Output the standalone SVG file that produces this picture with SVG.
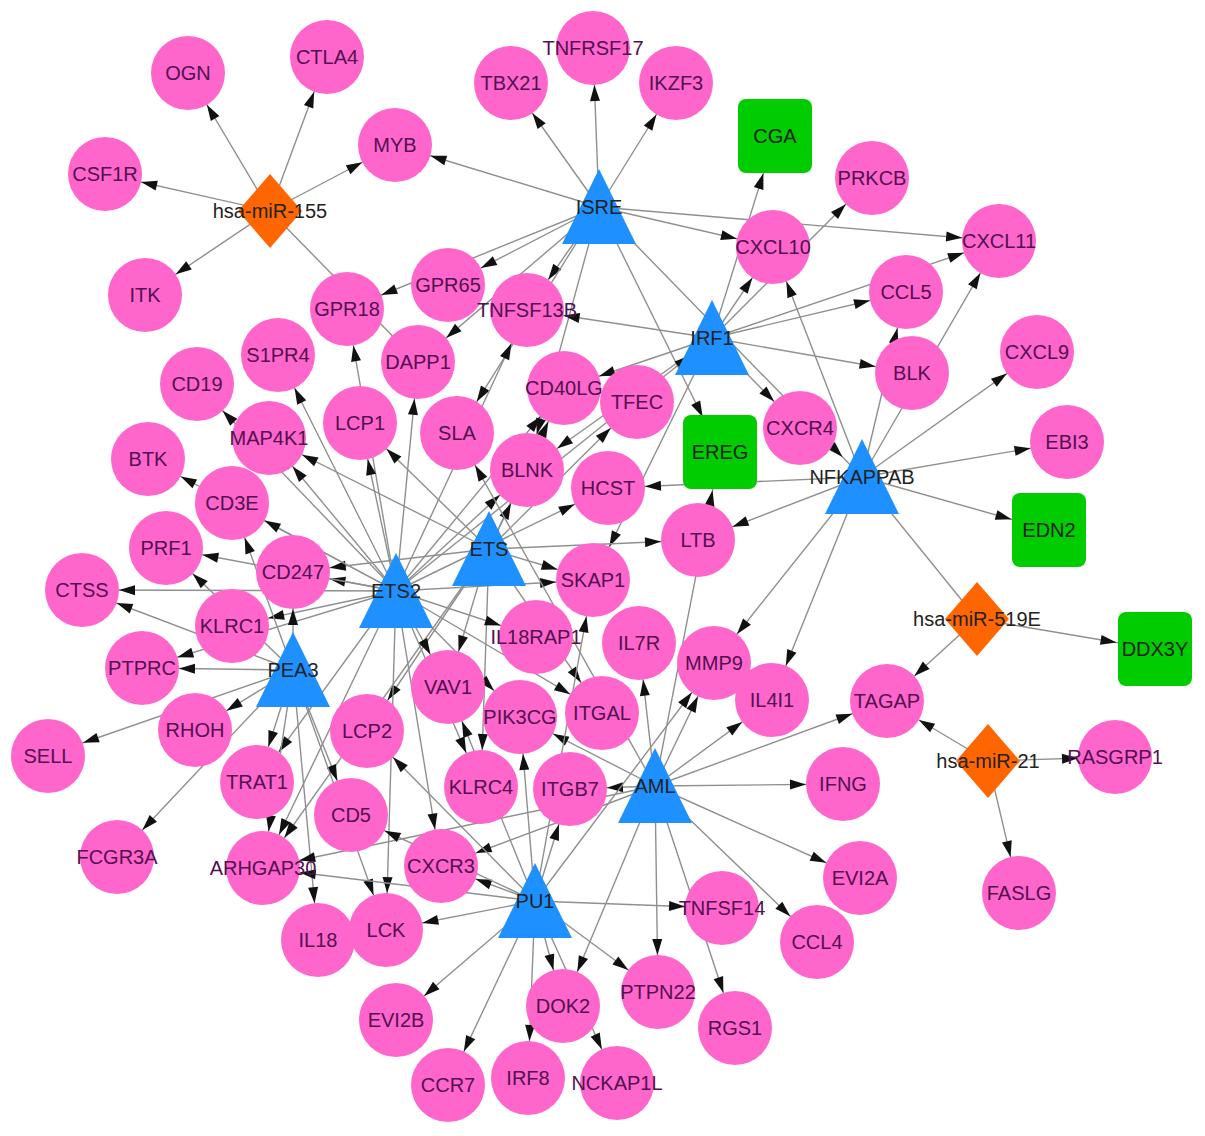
<svg xmlns="http://www.w3.org/2000/svg" width="1205" height="1136" viewBox="0 0 1205 1136">
<style>
.e{stroke:#8f8f8f;stroke-width:1.4;fill:none;marker-end:url(#a)}
.es{marker-end:url(#as)}
.et{marker-end:url(#at)}
.pl{marker-end:none}
.c{fill:#FF66CC}
.t{fill:#1E90FF}
.d{fill:#FF6600}
.s{fill:#00CC00}
text{font-family:"Liberation Sans",Arial,sans-serif;font-size:20px;text-anchor:middle}
.lc{fill:#52104F}
.lo{fill:#222222}
</style>
<defs>
<marker id="a" viewBox="0 0 16 10" markerWidth="16" markerHeight="10" refX="53" refY="5" orient="auto" markerUnits="userSpaceOnUse" style="overflow:visible"><path d="M0,0L16,5L0,10z" fill="#111"/></marker>
<marker id="as" viewBox="0 0 16 10" markerWidth="16" markerHeight="10" refX="55" refY="5" orient="auto" markerUnits="userSpaceOnUse" style="overflow:visible"><path d="M0,0L16,5L0,10z" fill="#111"/></marker>
<marker id="at" viewBox="0 0 16 10" markerWidth="16" markerHeight="10" refX="44" refY="5" orient="auto" markerUnits="userSpaceOnUse" style="overflow:visible"><path d="M0,0L16,5L0,10z" fill="#111"/></marker>
</defs>
<rect width="1205" height="1136" fill="#ffffff"/>
<g id="connectors">
<line class="e" x1="270" y1="211" x2="188" y2="73"/>
<line class="e" x1="270" y1="211" x2="327" y2="57"/>
<line class="e" x1="270" y1="211" x2="105" y2="174"/>
<line class="e" x1="270" y1="211" x2="395" y2="145"/>
<line class="e" x1="270" y1="211" x2="145" y2="295"/>
<line class="e pl" x1="270" y1="211" x2="418" y2="362"/>
<line class="e" x1="599" y1="207" x2="511" y2="83"/>
<line class="e" x1="599" y1="207" x2="593" y2="48"/>
<line class="e" x1="599" y1="207" x2="676" y2="83"/>
<line class="e" x1="599" y1="207" x2="395" y2="145"/>
<line class="e" x1="599" y1="207" x2="773" y2="247"/>
<line class="e" x1="599" y1="207" x2="999" y2="241"/>
<line class="e" x1="599" y1="207" x2="448" y2="285"/>
<line class="e" x1="599" y1="207" x2="347" y2="309"/>
<line class="e" x1="599" y1="207" x2="527" y2="310"/>
<line class="e" x1="599" y1="207" x2="418" y2="362"/>
<line class="e es" x1="599" y1="207" x2="720" y2="452"/>
<line class="e et" x1="599" y1="207" x2="862" y2="477"/>
<line class="e" x1="599" y1="207" x2="527" y2="470"/>
<line class="e" x1="599" y1="207" x2="457" y2="433"/>
<line class="e es" x1="712" y1="338" x2="775" y2="136"/>
<line class="e" x1="712" y1="338" x2="773" y2="247"/>
<line class="e" x1="712" y1="338" x2="872" y2="178"/>
<line class="e" x1="712" y1="338" x2="999" y2="241"/>
<line class="e" x1="712" y1="338" x2="906" y2="292"/>
<line class="e" x1="712" y1="338" x2="912" y2="373"/>
<line class="e" x1="712" y1="338" x2="800" y2="428"/>
<line class="e" x1="712" y1="338" x2="527" y2="310"/>
<line class="e" x1="712" y1="338" x2="564" y2="388"/>
<line class="e" x1="712" y1="338" x2="527" y2="470"/>
<line class="e" x1="712" y1="338" x2="593" y2="580"/>
<line class="e" x1="862" y1="477" x2="773" y2="247"/>
<line class="e" x1="862" y1="477" x2="906" y2="292"/>
<line class="e" x1="862" y1="477" x2="999" y2="241"/>
<line class="e" x1="862" y1="477" x2="1037" y2="352"/>
<line class="e" x1="862" y1="477" x2="1067" y2="442"/>
<line class="e es" x1="862" y1="477" x2="1049" y2="530"/>
<line class="e" x1="862" y1="477" x2="608" y2="488"/>
<line class="e" x1="862" y1="477" x2="698" y2="540"/>
<line class="e" x1="862" y1="477" x2="714" y2="663"/>
<line class="e" x1="862" y1="477" x2="772" y2="700"/>
<line class="e pl" x1="862" y1="477" x2="977" y2="619"/>
<line class="e es" x1="977" y1="619" x2="1155" y2="649"/>
<line class="e" x1="977" y1="619" x2="887" y2="701"/>
<line class="e" x1="988" y1="761" x2="887" y2="701"/>
<line class="e" x1="988" y1="761" x2="1115" y2="757"/>
<line class="e" x1="988" y1="761" x2="1019" y2="893"/>
<line class="e" x1="489" y1="549" x2="637" y2="402"/>
<line class="e" x1="489" y1="549" x2="564" y2="388"/>
<line class="e" x1="489" y1="549" x2="527" y2="470"/>
<line class="e" x1="489" y1="549" x2="593" y2="580"/>
<line class="e" x1="489" y1="549" x2="698" y2="540"/>
<line class="e" x1="489" y1="549" x2="360" y2="423"/>
<line class="e" x1="489" y1="549" x2="269" y2="438"/>
<line class="e" x1="489" y1="549" x2="293" y2="572"/>
<line class="e" x1="489" y1="549" x2="448" y2="687"/>
<line class="e" x1="489" y1="549" x2="367" y2="731"/>
<line class="e" x1="489" y1="549" x2="602" y2="713"/>
<line class="e" x1="489" y1="549" x2="481" y2="787"/>
<line class="e" x1="489" y1="549" x2="263" y2="868"/>
<line class="e et" x1="396" y1="591" x2="712" y2="338"/>
<line class="e" x1="396" y1="591" x2="564" y2="388"/>
<line class="e" x1="396" y1="591" x2="527" y2="470"/>
<line class="e" x1="396" y1="591" x2="593" y2="580"/>
<line class="e" x1="396" y1="591" x2="608" y2="488"/>
<line class="e" x1="396" y1="591" x2="527" y2="310"/>
<line class="e" x1="396" y1="591" x2="418" y2="362"/>
<line class="e" x1="396" y1="591" x2="347" y2="309"/>
<line class="e" x1="396" y1="591" x2="360" y2="423"/>
<line class="e" x1="396" y1="591" x2="278" y2="355"/>
<line class="e" x1="396" y1="591" x2="269" y2="438"/>
<line class="e" x1="396" y1="591" x2="197" y2="384"/>
<line class="e" x1="396" y1="591" x2="148" y2="459"/>
<line class="e" x1="396" y1="591" x2="232" y2="503"/>
<line class="e" x1="396" y1="591" x2="293" y2="572"/>
<line class="e" x1="396" y1="591" x2="166" y2="548"/>
<line class="e" x1="396" y1="591" x2="82" y2="590"/>
<line class="e" x1="396" y1="591" x2="232" y2="626"/>
<line class="e" x1="396" y1="591" x2="142" y2="668"/>
<line class="e" x1="396" y1="591" x2="536" y2="637"/>
<line class="e" x1="396" y1="591" x2="448" y2="687"/>
<line class="e" x1="396" y1="591" x2="520" y2="717"/>
<line class="e" x1="396" y1="591" x2="602" y2="713"/>
<line class="e" x1="396" y1="591" x2="481" y2="787"/>
<line class="e" x1="396" y1="591" x2="441" y2="866"/>
<line class="e" x1="396" y1="591" x2="386" y2="930"/>
<line class="e" x1="396" y1="591" x2="263" y2="868"/>
<line class="e" x1="396" y1="591" x2="257" y2="782"/>
<line class="e" x1="293" y1="670" x2="293" y2="572"/>
<line class="e" x1="293" y1="670" x2="232" y2="503"/>
<line class="e" x1="293" y1="670" x2="166" y2="548"/>
<line class="e" x1="293" y1="670" x2="82" y2="590"/>
<line class="e" x1="293" y1="670" x2="142" y2="668"/>
<line class="e" x1="293" y1="670" x2="195" y2="730"/>
<line class="e" x1="293" y1="670" x2="48" y2="755"/>
<line class="e" x1="293" y1="670" x2="117" y2="857"/>
<line class="e" x1="293" y1="670" x2="257" y2="782"/>
<line class="e" x1="293" y1="670" x2="263" y2="868"/>
<line class="e" x1="293" y1="670" x2="351" y2="815"/>
<line class="e" x1="293" y1="670" x2="318" y2="940"/>
<line class="e" x1="293" y1="670" x2="386" y2="930"/>
<line class="e" x1="655" y1="786" x2="570" y2="789"/>
<line class="e" x1="655" y1="786" x2="843" y2="784"/>
<line class="e" x1="655" y1="786" x2="860" y2="878"/>
<line class="e" x1="655" y1="786" x2="817" y2="942"/>
<line class="e" x1="655" y1="786" x2="735" y2="1028"/>
<line class="e" x1="655" y1="786" x2="658" y2="992"/>
<line class="e" x1="655" y1="786" x2="563" y2="1006"/>
<line class="e" x1="655" y1="786" x2="887" y2="701"/>
<line class="e" x1="655" y1="786" x2="772" y2="700"/>
<line class="e" x1="655" y1="786" x2="714" y2="663"/>
<line class="e" x1="655" y1="786" x2="639" y2="643"/>
<line class="e es" x1="655" y1="786" x2="720" y2="452"/>
<line class="e" x1="655" y1="786" x2="457" y2="433"/>
<line class="e" x1="655" y1="786" x2="520" y2="717"/>
<line class="e" x1="655" y1="786" x2="441" y2="866"/>
<line class="e" x1="655" y1="786" x2="263" y2="868"/>
<line class="e" x1="535" y1="901" x2="448" y2="1085"/>
<line class="e" x1="535" y1="901" x2="528" y2="1078"/>
<line class="e" x1="535" y1="901" x2="563" y2="1006"/>
<line class="e" x1="535" y1="901" x2="617" y2="1083"/>
<line class="e" x1="535" y1="901" x2="658" y2="992"/>
<line class="e" x1="535" y1="901" x2="722" y2="908"/>
<line class="e" x1="535" y1="901" x2="396" y2="1020"/>
<line class="e" x1="535" y1="901" x2="570" y2="789"/>
<line class="e" x1="535" y1="901" x2="441" y2="866"/>
<line class="e" x1="535" y1="901" x2="386" y2="930"/>
<line class="e" x1="535" y1="901" x2="263" y2="868"/>
<line class="e" x1="535" y1="901" x2="520" y2="717"/>
<line class="e" x1="535" y1="901" x2="714" y2="663"/>
<line class="e" x1="535" y1="901" x2="367" y2="731"/>
<line class="e" x1="535" y1="901" x2="351" y2="815"/>
<line class="e" x1="535" y1="901" x2="593" y2="580"/>
<line class="e" x1="535" y1="901" x2="448" y2="687"/>
</g>
<g id="n-OGN"><circle class="c" cx="188" cy="73" r="37"/><text class="lc" x="188" y="80">OGN</text></g>
<g id="n-CTLA4"><circle class="c" cx="327" cy="57" r="37"/><text class="lc" x="327" y="64">CTLA4</text></g>
<g id="n-CSF1R"><circle class="c" cx="105" cy="174" r="37"/><text class="lc" x="105" y="181">CSF1R</text></g>
<g id="n-MYB"><circle class="c" cx="395" cy="145" r="37"/><text class="lc" x="395" y="152">MYB</text></g>
<g id="n-ITK"><circle class="c" cx="145" cy="295" r="37"/><text class="lc" x="145" y="302">ITK</text></g>
<g id="n-TBX21"><circle class="c" cx="511" cy="83" r="37"/><text class="lc" x="511" y="90">TBX21</text></g>
<g id="n-TNFRSF17"><circle class="c" cx="593" cy="48" r="37"/><text class="lc" x="593" y="55">TNFRSF17</text></g>
<g id="n-IKZF3"><circle class="c" cx="676" cy="83" r="37"/><text class="lc" x="676" y="90">IKZF3</text></g>
<g id="n-PRKCB"><circle class="c" cx="872" cy="178" r="37"/><text class="lc" x="872" y="185">PRKCB</text></g>
<g id="n-CXCL10"><circle class="c" cx="773" cy="247" r="37"/><text class="lc" x="773" y="254">CXCL10</text></g>
<g id="n-CXCL11"><circle class="c" cx="999" cy="241" r="37"/><text class="lc" x="999" y="248">CXCL11</text></g>
<g id="n-GPR65"><circle class="c" cx="448" cy="285" r="37"/><text class="lc" x="448" y="292">GPR65</text></g>
<g id="n-GPR18"><circle class="c" cx="347" cy="309" r="37"/><text class="lc" x="347" y="316">GPR18</text></g>
<g id="n-TNFSF13B"><circle class="c" cx="527" cy="310" r="37"/><text class="lc" x="527" y="317">TNFSF13B</text></g>
<g id="n-CCL5"><circle class="c" cx="906" cy="292" r="37"/><text class="lc" x="906" y="299">CCL5</text></g>
<g id="n-DAPP1"><circle class="c" cx="418" cy="362" r="37"/><text class="lc" x="418" y="369">DAPP1</text></g>
<g id="n-S1PR4"><circle class="c" cx="278" cy="355" r="37"/><text class="lc" x="278" y="362">S1PR4</text></g>
<g id="n-CD19"><circle class="c" cx="197" cy="384" r="37"/><text class="lc" x="197" y="391">CD19</text></g>
<g id="n-BLK"><circle class="c" cx="912" cy="373" r="37"/><text class="lc" x="912" y="380">BLK</text></g>
<g id="n-CXCL9"><circle class="c" cx="1037" cy="352" r="37"/><text class="lc" x="1037" y="359">CXCL9</text></g>
<g id="n-CD40LG"><circle class="c" cx="564" cy="388" r="37"/><text class="lc" x="564" y="395">CD40LG</text></g>
<g id="n-TFEC"><circle class="c" cx="637" cy="402" r="37"/><text class="lc" x="637" y="409">TFEC</text></g>
<g id="n-CXCR4"><circle class="c" cx="800" cy="428" r="37"/><text class="lc" x="800" y="435">CXCR4</text></g>
<g id="n-LCP1"><circle class="c" cx="360" cy="423" r="37"/><text class="lc" x="360" y="430">LCP1</text></g>
<g id="n-SLA"><circle class="c" cx="457" cy="433" r="37"/><text class="lc" x="457" y="440">SLA</text></g>
<g id="n-MAP4K1"><circle class="c" cx="269" cy="438" r="37"/><text class="lc" x="269" y="445">MAP4K1</text></g>
<g id="n-EBI3"><circle class="c" cx="1067" cy="442" r="37"/><text class="lc" x="1067" y="449">EBI3</text></g>
<g id="n-BTK"><circle class="c" cx="148" cy="459" r="37"/><text class="lc" x="148" y="466">BTK</text></g>
<g id="n-BLNK"><circle class="c" cx="527" cy="470" r="37"/><text class="lc" x="527" y="477">BLNK</text></g>
<g id="n-HCST"><circle class="c" cx="608" cy="488" r="37"/><text class="lc" x="608" y="495">HCST</text></g>
<g id="n-CD3E"><circle class="c" cx="232" cy="503" r="37"/><text class="lc" x="232" y="510">CD3E</text></g>
<g id="n-LTB"><circle class="c" cx="698" cy="540" r="37"/><text class="lc" x="698" y="547">LTB</text></g>
<g id="n-PRF1"><circle class="c" cx="166" cy="548" r="37"/><text class="lc" x="166" y="555">PRF1</text></g>
<g id="n-CD247"><circle class="c" cx="293" cy="572" r="37"/><text class="lc" x="293" y="579">CD247</text></g>
<g id="n-CTSS"><circle class="c" cx="82" cy="590" r="37"/><text class="lc" x="82" y="597">CTSS</text></g>
<g id="n-SKAP1"><circle class="c" cx="593" cy="580" r="37"/><text class="lc" x="593" y="587">SKAP1</text></g>
<g id="n-KLRC1"><circle class="c" cx="232" cy="626" r="37"/><text class="lc" x="232" y="633">KLRC1</text></g>
<g id="n-IL18RAP1"><circle class="c" cx="536" cy="637" r="37"/><text class="lc" x="536" y="644">IL18RAP1</text></g>
<g id="n-IL7R"><circle class="c" cx="639" cy="643" r="37"/><text class="lc" x="639" y="650">IL7R</text></g>
<g id="n-MMP9"><circle class="c" cx="714" cy="663" r="37"/><text class="lc" x="714" y="670">MMP9</text></g>
<g id="n-PTPRC"><circle class="c" cx="142" cy="668" r="37"/><text class="lc" x="142" y="675">PTPRC</text></g>
<g id="n-IL4I1"><circle class="c" cx="772" cy="700" r="37"/><text class="lc" x="772" y="707">IL4I1</text></g>
<g id="n-TAGAP"><circle class="c" cx="887" cy="701" r="37"/><text class="lc" x="887" y="708">TAGAP</text></g>
<g id="n-VAV1"><circle class="c" cx="448" cy="687" r="37"/><text class="lc" x="448" y="694">VAV1</text></g>
<g id="n-PIK3CG"><circle class="c" cx="520" cy="717" r="37"/><text class="lc" x="520" y="724">PIK3CG</text></g>
<g id="n-ITGAL"><circle class="c" cx="602" cy="713" r="37"/><text class="lc" x="602" y="720">ITGAL</text></g>
<g id="n-RHOH"><circle class="c" cx="195" cy="730" r="37"/><text class="lc" x="195" y="737">RHOH</text></g>
<g id="n-LCP2"><circle class="c" cx="367" cy="731" r="37"/><text class="lc" x="367" y="738">LCP2</text></g>
<g id="n-SELL"><circle class="c" cx="48" cy="756" r="37"/><text class="lc" x="48" y="763">SELL</text></g>
<g id="n-TRAT1"><circle class="c" cx="257" cy="782" r="37"/><text class="lc" x="257" y="789">TRAT1</text></g>
<g id="n-KLRC4"><circle class="c" cx="481" cy="787" r="37"/><text class="lc" x="481" y="794">KLRC4</text></g>
<g id="n-ITGB7"><circle class="c" cx="570" cy="789" r="37"/><text class="lc" x="570" y="796">ITGB7</text></g>
<g id="n-IFNG"><circle class="c" cx="843" cy="784" r="37"/><text class="lc" x="843" y="791">IFNG</text></g>
<g id="n-RASGRP1"><circle class="c" cx="1115" cy="757" r="37"/><text class="lc" x="1115" y="764">RASGRP1</text></g>
<g id="n-CD5"><circle class="c" cx="351" cy="815" r="37"/><text class="lc" x="351" y="822">CD5</text></g>
<g id="n-FCGR3A"><circle class="c" cx="117" cy="857" r="37"/><text class="lc" x="117" y="864">FCGR3A</text></g>
<g id="n-ARHGAP30"><circle class="c" cx="263" cy="868" r="37"/><text class="lc" x="263" y="875">ARHGAP30</text></g>
<g id="n-CXCR3"><circle class="c" cx="441" cy="866" r="37"/><text class="lc" x="441" y="873">CXCR3</text></g>
<g id="n-EVI2A"><circle class="c" cx="860" cy="878" r="37"/><text class="lc" x="860" y="885">EVI2A</text></g>
<g id="n-FASLG"><circle class="c" cx="1019" cy="893" r="37"/><text class="lc" x="1019" y="900">FASLG</text></g>
<g id="n-IL18"><circle class="c" cx="318" cy="940" r="37"/><text class="lc" x="318" y="947">IL18</text></g>
<g id="n-LCK"><circle class="c" cx="386" cy="930" r="37"/><text class="lc" x="386" y="937">LCK</text></g>
<g id="n-TNFSF14"><circle class="c" cx="722" cy="908" r="37"/><text class="lc" x="722" y="915">TNFSF14</text></g>
<g id="n-CCL4"><circle class="c" cx="817" cy="942" r="37"/><text class="lc" x="817" y="949">CCL4</text></g>
<g id="n-EVI2B"><circle class="c" cx="396" cy="1020" r="37"/><text class="lc" x="396" y="1027">EVI2B</text></g>
<g id="n-DOK2"><circle class="c" cx="563" cy="1006" r="37"/><text class="lc" x="563" y="1013">DOK2</text></g>
<g id="n-PTPN22"><circle class="c" cx="658" cy="992" r="37"/><text class="lc" x="658" y="999">PTPN22</text></g>
<g id="n-RGS1"><circle class="c" cx="735" cy="1028" r="37"/><text class="lc" x="735" y="1035">RGS1</text></g>
<g id="n-CCR7"><circle class="c" cx="448" cy="1085" r="37"/><text class="lc" x="448" y="1092">CCR7</text></g>
<g id="n-IRF8"><circle class="c" cx="528" cy="1078" r="37"/><text class="lc" x="528" y="1085">IRF8</text></g>
<g id="n-NCKAP1L"><circle class="c" cx="617" cy="1083" r="37"/><text class="lc" x="617" y="1090">NCKAP1L</text></g>
<g id="n-CGA"><rect class="s" x="738" y="99" width="74" height="74" rx="8"/><text class="lo" x="775" y="143">CGA</text></g>
<g id="n-EREG"><rect class="s" x="683" y="415" width="74" height="74" rx="8"/><text class="lo" x="720" y="459">EREG</text></g>
<g id="n-EDN2"><rect class="s" x="1012" y="493" width="74" height="74" rx="8"/><text class="lo" x="1049" y="537">EDN2</text></g>
<g id="n-DDX3Y"><rect class="s" x="1118" y="612" width="74" height="74" rx="8"/><text class="lo" x="1155" y="656">DDX3Y</text></g>
<g id="n-ISRE"><polygon class="t" points="599,169 636,244 562,244"/><text class="lo" x="599" y="214">ISRE</text></g>
<g id="n-IRF1"><polygon class="t" points="712,300 749,375 675,375"/><text class="lo" x="712" y="345">IRF1</text></g>
<g id="n-NFKAPPAB"><polygon class="t" points="862,439 899,514 825,514"/><text class="lo" x="862" y="484">NFKAPPAB</text></g>
<g id="n-ETS"><polygon class="t" points="489,511 526,586 452,586"/><text class="lo" x="489" y="556">ETS</text></g>
<g id="n-ETS2"><polygon class="t" points="396,553 433,628 359,628"/><text class="lo" x="396" y="598">ETS2</text></g>
<g id="n-PEA3"><polygon class="t" points="293,632 330,707 256,707"/><text class="lo" x="293" y="677">PEA3</text></g>
<g id="n-AML"><polygon class="t" points="655,748 692,823 618,823"/><text class="lo" x="655" y="793">AML</text></g>
<g id="n-PU1"><polygon class="t" points="535,863 572,938 498,938"/><text class="lo" x="535" y="908">PU1</text></g>
<g id="n-miR155"><polygon class="d" points="270,174 302,211 270,248 238,211"/><text class="lo" x="270" y="218">hsa-miR-155</text></g>
<g id="n-miR519E"><polygon class="d" points="977,582 1009,619 977,656 945,619"/><text class="lo" x="977" y="626">hsa-miR-519E</text></g>
<g id="n-miR21"><polygon class="d" points="988,724 1020,761 988,798 956,761"/><text class="lo" x="988" y="768">hsa-miR-21</text></g>
</svg>
